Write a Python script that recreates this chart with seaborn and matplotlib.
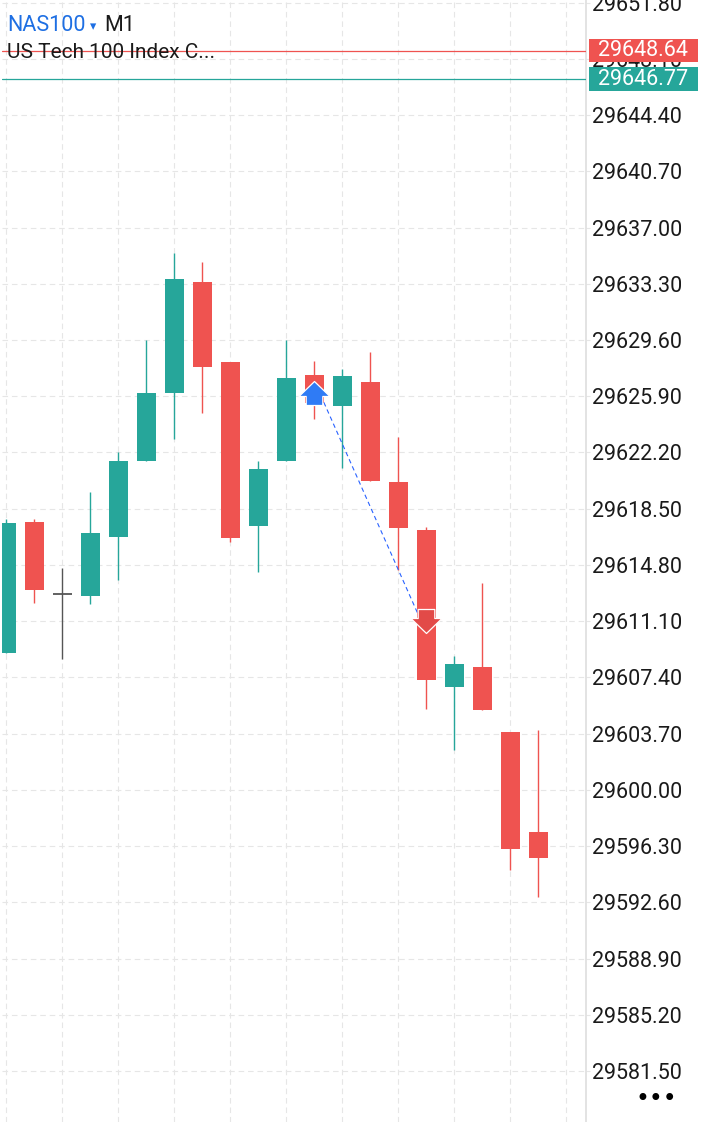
import numpy as np
import pandas as pd
import matplotlib
matplotlib.use("Agg")
import matplotlib.pyplot as plt
import seaborn as sns
from matplotlib.path import Path
from matplotlib.patches import Rectangle
import matplotlib.transforms as mtransforms

# ---- data (NAS100, M1) ----
opens = [29608.99, 29617.63, 29612.87, 29612.76, 29616.67, 29621.64, 29626.12,
         29633.40, 29628.18, 29617.39, 29621.66, 29627.30, 29625.26, 29626.86,
         29620.27, 29617.11, 29606.80, 29608.06, 29603.80, 29597.26]
highs = [29617.80, 29617.80, 29614.59, 29619.59, 29622.24, 29629.61, 29635.31,
         29634.72, 29628.18, 29621.63, 29629.61, 29628.22, 29627.68, 29628.80,
         29623.24, 29617.28, 29608.82, 29613.60, 29603.80, 29603.95]
lows = [29608.99, 29612.28, 29608.62, 29612.24, 29613.82, 29621.64, 29623.07,
        29624.78, 29616.34, 29614.32, 29621.66, 29624.38, 29621.16, 29620.35,
        29614.47, 29605.33, 29602.63, 29605.26, 29594.74, 29592.96]
closes = [29617.55, 29613.16, 29612.87, 29616.89, 29621.63, 29626.09, 29633.60,
          29627.83, 29616.60, 29621.14, 29627.09, 29625.46, 29627.26, 29620.35,
          29617.24, 29607.24, 29608.27, 29605.26, 29596.12, 29595.53]

price_ticks = [29581.50, 29585.20, 29588.90, 29592.60, 29596.30, 29600.00,
               29603.70, 29607.40, 29611.10, 29614.80, 29618.50, 29622.20,
               29625.90, 29629.60, 29633.30, 29637.00, 29640.70, 29644.40,
               29648.10, 29651.80]

ask_price = 29648.64
bid_price = 29646.77

# trade markers: buy at bar 11, sell at bar 15
trade_bars = [11, 15]
trade_prices = [29626.90, 29610.33]

symbol = "NAS100"
timeframe = "M1"
description = "US Tech 100 Index C..."

GREEN = "#26a69a"
RED = "#ef5350"
DOJI = "#555555"
GRID = "#e6e6e6"

df = pd.DataFrame({"open": opens, "high": highs, "low": lows, "close": closes})
df["bar"] = np.arange(len(df))
df["color"] = np.where(df["close"] > df["open"], GREEN,
                       np.where(df["close"] < df["open"], RED, DOJI))

sns.set_theme(style="white")
plt.rcParams["font.family"] = ["Roboto", "DejaVu Sans"]

W, H = 720, 1122
fig = plt.figure(figsize=(W / 100, H / 100), dpi=100)
ax = fig.add_axes([2 / W, 0, 584 / W, 1])

# candles
body_w = 0.67
for _, r in df.iterrows():
    ax.vlines(r["bar"], r["low"], r["high"], color=r["color"], lw=1.0, zorder=3)
    if r["close"] == r["open"]:
        ax.hlines(r["open"], r["bar"] - body_w / 2, r["bar"] + body_w / 2,
                  color=r["color"], lw=1.3, zorder=3)
    else:
        lo = min(r["open"], r["close"])
        ax.bar(r["bar"], abs(r["close"] - r["open"]), bottom=lo, width=body_w,
               color=r["color"], edgecolor="none", zorder=4)

ax.set_xlim(-0.154, 20.7)
ax.set_ylim(29578.15, 29651.97)

# grid
for t in price_ticks:
    ax.axhline(t, color=GRID, lw=0.8, ls=(0, (5, 3.5)), zorder=0)
for b in df["bar"][::2]:
    ax.axvline(b, color=GRID, lw=0.8, ls=(0, (5, 3.5)), zorder=0)
ax.axvline(20, color=GRID, lw=0.8, ls=(0, (5, 3.5)), zorder=0)

# price axis on the right
ax.yaxis.tick_right()
ax.set_yticks(price_ticks)
ax.set_yticklabels([f"{t:.2f}" for t in price_ticks])
ax.tick_params(axis="y", length=3, width=0.8, color=GRID, pad=1.5,
               labelsize=15.5, labelcolor="#1a1a1a")
ax.set_xticks([])
for s in ["left", "top", "bottom"]:
    ax.spines[s].set_visible(False)
ax.spines["right"].set_color("#dedede")
ax.spines["right"].set_linewidth(1.2)

# bid / ask lines with boxes
blend = mtransforms.blended_transform_factory(ax.transAxes, ax.transData)
box_h = 23.5 / (H / (29651.97 - 29578.15))
for price, col in [(ask_price, RED), (bid_price, GREEN)]:
    ax.axhline(price, color=col, lw=0.9, zorder=5)
    ax.add_patch(Rectangle((1.005, price - box_h / 2), 109 / 584, box_h,
                           transform=blend, facecolor=col, edgecolor="none",
                           clip_on=False, zorder=6))
    ax.text(1.005 + 109 / 584 / 2, price, f"{price:.2f}", transform=blend,
            ha="center", va="center", color="white", fontsize=15.5,
            clip_on=False, zorder=7)

# trade link and arrows
ax.plot(trade_bars, trade_prices, color="#2962ff", lw=0.8,
        ls=(0, (4, 3)), zorder=7)

up_arrow = Path([(0, 0), (15.5, -15), (8.3, -15), (8.3, -24), (-8.3, -24),
                 (-8.3, -15), (-15.5, -15), (0, 0)], closed=True)
down_arrow = Path([(0, 0), (15.5, 15), (8.3, 15), (8.3, 24), (-8.3, 24),
                   (-8.3, 15), (-15.5, 15), (0, 0)], closed=True)
ms = 2 * 24 * 72 / 100
ax.plot(trade_bars[0], trade_prices[0], marker=up_arrow, ms=ms,
        color="#2f7bf5", mec="white", mew=0.9, zorder=8, clip_on=False)
ax.plot(trade_bars[1], trade_prices[1], marker=down_arrow, ms=ms,
        color="#e24a48", mec="white", mew=0.9, zorder=8, clip_on=False)

# header
t1 = fig.text(7 / W, 1 - 31 / H, symbol, color="#1e6fe3", fontsize=15.5,
              ha="left", va="baseline")
ax.annotate("\u25be", xy=(1, 0), xycoords=t1, xytext=(3.5, 4),
            textcoords="offset points", color="#1e6fe3", fontsize=9,
            family=["DejaVu Sans"], ha="left", va="baseline")
ax.annotate(timeframe, xy=(1, 0), xycoords=t1, xytext=(13.5, 0),
            textcoords="offset points", color="#1a1a1a", fontsize=15.5,
            ha="left", va="bottom")
fig.text(7 / W, 1 - 57.5 / H, description, color="#1a1a1a", fontsize=15,
         ha="left", va="baseline")

fig.text(656 / W, 1 - 1099 / H, "\u2022\u2022\u2022", color="black",
         fontsize=17, family=["DejaVu Sans"], ha="center", va="center")

fig.savefig("out.png", dpi=100, facecolor="white")
